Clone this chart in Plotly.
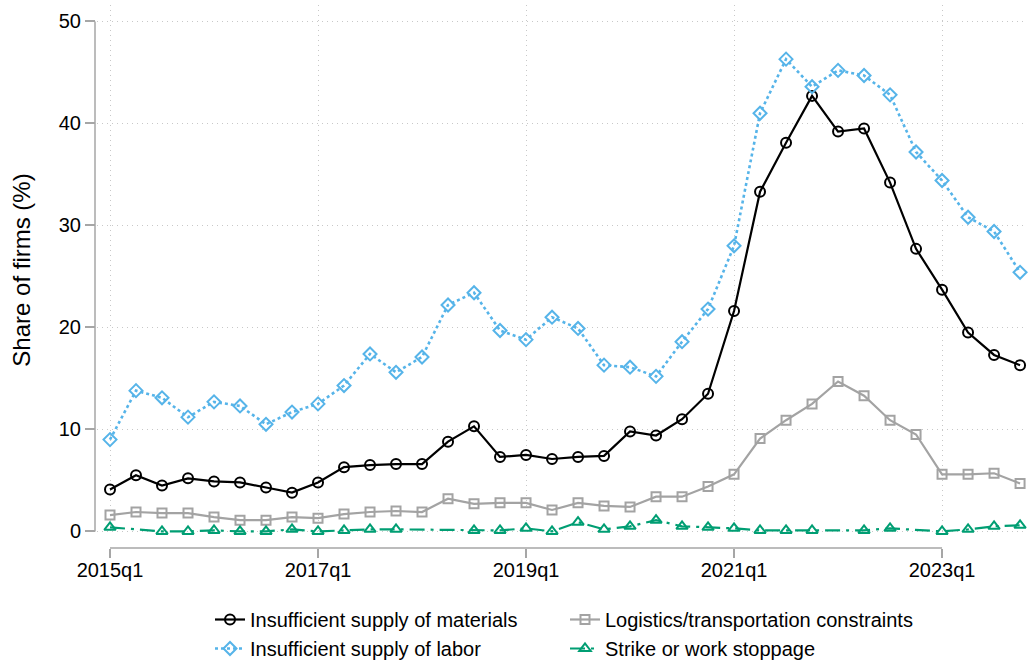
import plotly.graph_objects as go

# ---- data ----
quarters = [f"{y}q{q}" for y in range(2015, 2024) for q in range(1, 5)]
tick_labels = ["2015q1", "2017q1", "2019q1", "2021q1", "2023q1"]
y_ticks = [0, 10, 20, 30, 40, 50]

materials = [4.1, 5.5, 4.5, 5.2, 4.9, 4.8, 4.3, 3.8, 4.8, 6.3, 6.5, 6.6,
             6.6, 8.8, 10.3, 7.3, 7.5, 7.1, 7.3, 7.4, 9.8, 9.4, 11.0, 13.5,
             21.6, 33.3, 38.1, 42.7, 39.2, 39.5, 34.2, 27.7, 23.7, 19.5, 17.3, 16.3]
labor = [9.0, 13.8, 13.1, 11.2, 12.7, 12.3, 10.5, 11.7, 12.5, 14.3, 17.4, 15.6,
         17.1, 22.2, 23.4, 19.7, 18.8, 21.0, 19.9, 16.3, 16.1, 15.2, 18.6, 21.8,
         28.0, 41.0, 46.3, 43.6, 45.2, 44.7, 42.8, 37.2, 34.4, 30.8, 29.4, 25.4]
logistics = [1.6, 1.9, 1.8, 1.8, 1.4, 1.1, 1.1, 1.4, 1.3, 1.7, 1.9, 2.0,
             1.9, 3.2, 2.7, 2.8, 2.8, 2.1, 2.8, 2.5, 2.4, 3.4, 3.4, 4.4,
             5.6, 9.1, 10.9, 12.5, 14.7, 13.3, 10.9, 9.5, 5.6, 5.6, 5.7, 4.7]
strike = [0.4, None, 0.0, 0.0, 0.1, 0.0, 0.0, 0.2, 0.0, 0.1, 0.2, 0.2,
          None, None, 0.1, 0.1, 0.3, 0.0, 0.9, 0.2, 0.5, 1.1, 0.5, 0.4,
          0.3, 0.1, 0.1, 0.1, None, 0.1, 0.3, None, 0.0, 0.2, 0.5, 0.6]

names = ["Insufficient supply of materials", "Logistics/transportation constraints",
         "Insufficient supply of labor", "Strike or work stoppage"]

FONT = "Arial, Liberation Sans, Helvetica, sans-serif"
AXIS_GRAY = "#a6a6a6"
GRID_GRAY = "#c8c8c8"

fig = go.Figure()

def add(y, name, color, dash, symbol, msize, lw):
    fig.add_trace(go.Scatter(
        x=quarters, y=y, name=name, mode="lines+markers",
        connectgaps=True, cliponaxis=False,
        line=dict(color=color, width=lw, dash=dash),
        marker=dict(symbol=symbol, size=msize, color=color, line=dict(width=2, color=color)),
    ))

add(materials, names[0], "#000000", "solid", "circle-open", 10, 2.2)
add(logistics, names[1], "#a3a3a3", "solid", "square-open", 9, 2.2)
add(labor, names[2], "#56B4E9", "dot", "diamond-open", 10, 2.6)
add(strike, names[3], "#009E73", "longdashdot", "triangle-up-open", 10, 2.2)

PLOT_W = 1029 - 95 - 4
PLOT_H = 664 - 5 - 116

fig.update_layout(
    width=1029, height=664,
    margin=dict(l=95, r=4, t=5, b=116, autoexpand=False),
    paper_bgcolor="white", plot_bgcolor="white",
    font=dict(family=FONT, size=20, color="#000000"),
    showlegend=True,
    legend=dict(
        orientation="h", x=(210 - 95) / PLOT_W, xanchor="left",
        y=-(600 - 548) / PLOT_H, yanchor="top",
        entrywidth=310, entrywidthmode="pixels",
        font=dict(size=20, family=FONT), traceorder="normal",
        itemwidth=30, bgcolor="rgba(0,0,0,0)",
    ),
    xaxis=dict(
        type="category", categoryorder="array", categoryarray=quarters,
        range=[-0.5, 35.19], domain=[2 / PLOT_W, 1],
        anchor="free", position=0, automargin=False,
        tickmode="array", tickvals=tick_labels, ticktext=tick_labels,
        ticks="outside", ticklen=9, tickwidth=1.5, tickcolor=AXIS_GRAY,
        ticklabelstandoff=-5,
        showline=False, zeroline=False,
        showgrid=True, gridcolor=GRID_GRAY, griddash="1px,4px", gridwidth=1.2,
        tickfont=dict(size=20, family=FONT),
    ),
    yaxis=dict(
        range=[-0.353, 51.61], domain=[13 / PLOT_H, 1],
        anchor="free", position=0, automargin=False,
        tickmode="array", tickvals=y_ticks,
        ticks="outside", ticklen=10, tickwidth=1.5, tickcolor=AXIS_GRAY,
        showline=False, zeroline=False,
        showgrid=True, gridcolor=GRID_GRAY, griddash="1px,4px", gridwidth=1.2,
        tickfont=dict(size=20, family=FONT),
        title=dict(text="Share of firms (%)", font=dict(size=24, family=FONT), standoff=20),
    ),
)

# Stata-style axis lines spanning only the labelled tick range
fig.add_shape(type="line", xref="x", yref="paper",
              x0=quarters.index(tick_labels[0]), x1=quarters.index(tick_labels[-1]),
              y0=0, y1=0, line=dict(color=AXIS_GRAY, width=1.5))
fig.add_shape(type="line", xref="paper", yref="y",
              x0=0, x1=0, y0=y_ticks[0], y1=y_ticks[-1],
              line=dict(color=AXIS_GRAY, width=1.5))

fig.write_html("out.html", config={"displayModeBar": False},
               post_script="document.body.style.margin='0';document.body.style.overflow='hidden';")
